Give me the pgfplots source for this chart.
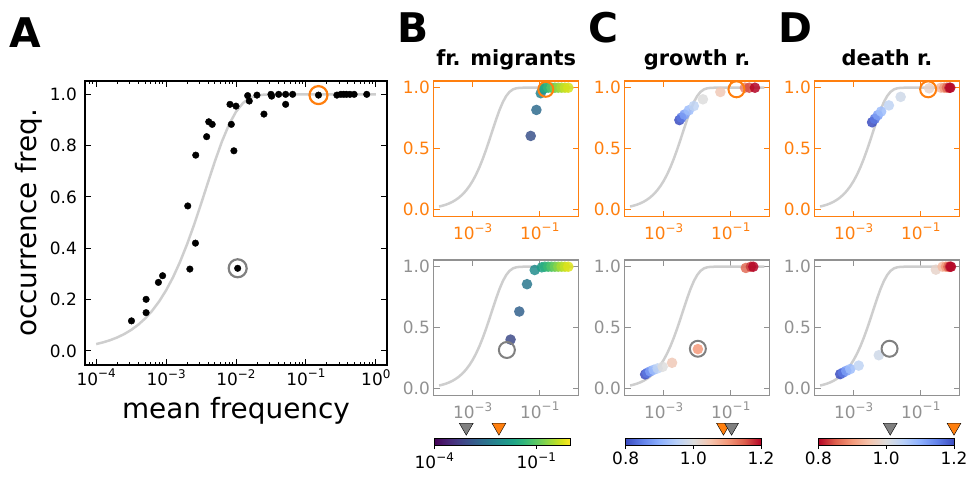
\documentclass[border=0pt]{standalone}
\usepackage{fontspec}
\setmainfont{DejaVu Sans}
\usepackage{pgfplots}
\usepackage{pgfplotstable}
\pgfplotsset{compat=1.18}

\definecolor{tab orange}{RGB}{255,127,14}
\definecolor{frame gray}{RGB}{145,145,145}
\definecolor{ring gray}{RGB}{128,128,128}
\definecolor{curve gray}{RGB}{206,206,206}

\pgfplotsset{
  colormap={coolwarm}{rgb255=(59,76,192) rgb255=(98,130,234) rgb255=(141,176,254) rgb255=(184,208,249) rgb255=(221,221,221) rgb255=(245,196,173) rgb255=(244,154,123) rgb255=(222,96,77) rgb255=(180,4,38)},
  colormap={coolwarm r}{rgb255=(180,4,38) rgb255=(222,96,77) rgb255=(244,154,123) rgb255=(245,196,173) rgb255=(221,221,221) rgb255=(184,208,249) rgb255=(141,176,254) rgb255=(98,130,234) rgb255=(59,76,192)},
}

\newcommand\tk{\fontsize{17}{20}\selectfont}
\newcommand\ex[1]{10\raisebox{0.42em}{\fontsize{12}{12}\selectfont#1}}

% fitted curve (x = log10 of mean frequency)
\pgfplotstableread{
x y
-4.0 0.0266
-3.9 0.0333
-3.8 0.0418
-3.7 0.0523
-3.6 0.0654
-3.5 0.0816
-3.4 0.1016
-3.3 0.1262
-3.2 0.1562
-3.1 0.1925
-3.0 0.2360
-2.9 0.2874
-2.8 0.3473
-2.7 0.4155
-2.6 0.4914
-2.5 0.5731
-2.4 0.6575
-2.3 0.7405
-2.2 0.8170
-2.1 0.8821
-2.0 0.9322
-1.9 0.9662
-1.8 0.9860
-1.7 0.9953
-1.6 0.9988
-1.5 0.9998
-1.4 1.0
0.0 1.0
}\fitcurve

% panel A species
\pgfplotstableread{
x y
-3.495 0.117
-3.286 0.201
-3.286 0.149
-3.11 0.267
-3.05 0.293
-2.69 0.565
-2.66 0.319
-2.58 0.42
-2.576 0.763
-2.42 0.835
-2.39 0.893
-2.34 0.883
-2.086 0.961
-2.067 0.883
-2.03 0.780
-2.0 0.954
-1.976 0.322
-1.833 0.995
-1.81 0.974
-1.70 0.997
-1.60 0.923
-1.50 1.0
-1.49 0.993
-1.39 1.0
-1.29 1.0
-1.29 0.961
-1.19 1.0
-0.82 0.997
-0.557 0.997
-0.50 1.0
-0.46 1.0
-0.42 1.0
-0.37 1.0
-0.31 1.0
-0.13 1.0
}\species

\pgfplotstableread{
x y c
-1.27 0.605 -3.0
-1.10 0.818 -2.6
-0.97 0.955 -2.2
-0.90 0.99 -1.9
-0.85 1.0 -1.6
-0.75 1.0 -1.35
-0.65 1.0 -1.1
-0.55 1.0 -0.85
-0.45 1.0 -0.65
-0.35 1.0 -0.5
-0.25 1.0 -0.35
-0.15 1.0 -0.25
}\Btop
\pgfplotstableread{
x y c
-1.87 0.403 -3.1
-1.61 0.633 -2.75
-1.38 0.857 -2.4
-1.15 0.973 -2.05
-0.94 0.995 -1.75
-0.85 1.0 -1.5
-0.75 1.0 -1.3
-0.65 1.0 -1.1
-0.55 1.0 -0.9
-0.45 1.0 -0.7
-0.35 1.0 -0.5
-0.25 1.0 -0.35
-0.15 1.0 -0.2
}\Bbot
\pgfplotstableread{
x y c
-2.53 0.735 0.80
-2.47 0.755 0.84
-2.38 0.780 0.88
-2.25 0.815 0.92
-2.10 0.850 0.96
-1.83 0.905 1.00
-1.31 0.965 1.04
-0.58 1.0 1.12
-0.45 1.0 1.16
-0.28 1.0 1.20
}\Ctop
\pgfplotstableread{
x y c
-3.55 0.118 0.80
-3.49 0.130 0.84
-3.40 0.143 0.88
-3.30 0.155 0.92
-3.18 0.167 0.96
-3.03 0.180 1.00
-2.75 0.213 1.04
-1.98 0.325 1.10
-0.55 0.99 1.14
-0.40 1.0 1.17
-0.33 1.0 1.20
}\Cbot
\pgfplotstableread{
x y c
-2.45 0.717 1.20
-2.37 0.745 1.16
-2.28 0.775 1.12
-2.18 0.805 1.08
-1.95 0.855 1.04
-1.60 0.925 1.02
-0.75 0.995 0.98
-0.40 1.0 0.94
-0.30 1.0 0.90
-0.22 1.0 0.86
-0.15 1.0 0.82
-0.12 1.0 0.80
}\Dtop
\pgfplotstableread{
x y c
-3.40 0.120 1.20
-3.32 0.132 1.16
-3.22 0.147 1.12
-3.10 0.162 1.08
-2.85 0.190 1.04
-2.25 0.275 1.02
-0.55 0.976 0.98
-0.35 1.0 0.94
-0.25 1.0 0.90
-0.18 1.0 0.86
-0.13 1.0 0.82
-0.10 1.0 0.80
}\Dbot

\pgfplotsset{
  small panel/.style={scale only axis, width=145bp, height=135.5bp,
    xmin=-4.16, xmax=0.16, ymin=-0.055, ymax=1.055,
    xtick={-3,-1}, xticklabels={\ex{−3},\ex{−1}},
    ytick={0,0.5,1}, yticklabels={0.0,0.5,1.0},
    tick align=inside, major tick length=6bp, clip=false,
    xticklabel style={font=\tk, anchor=north, inner sep=0pt, yshift=-6.5bp},
    yticklabel style={font=\tk, anchor=east, inner sep=0pt, xshift=-3.7bp}},
  orange panel/.style={small panel, axis line style={draw=tab orange, line width=1.5bp},
    tick style={draw=tab orange, line width=1.2bp}, tick label style={text=tab orange}},
  gray panel/.style={small panel, axis line style={draw=frame gray, line width=1.5bp},
    tick style={draw=frame gray, line width=1.2bp}, tick label style={text=frame gray}},
  dots/.style={scatter, only marks, mark=*, mark size=5.3bp, scatter src=explicit,
    scatter/use mapped color={draw=mapped color, fill=mapped color, draw opacity=0, fill opacity=0.85}},
  fit line/.style={curve gray, line width=2.5bp},
  cbar/.style={anchor=south west, scale only axis, height=7.4bp,
    ymin=0, ymax=1, hide axis, clip=false, colorbar horizontal},
  cbar ticks/.style={at={(0,0)}, anchor=south west, scale only axis, height=7.4bp,
    ytick=\empty, xtick pos=left, tick align=outside, major tick length=3.5bp,
    axis line style={line width=1bp}, tick style={black, line width=1bp},
    xticklabel style={font=\tk, text=black, inner sep=0pt, anchor=north, yshift=-3bp}},
  tri/.style={only marks, mark=triangle*, mark size=8bp, mark options={rotate=180, draw=none, fill=#1}},
}

\begin{document}
\begin{tikzpicture}
% ---- A ----
\begin{axis}[at={(85bp,-81bp)}, anchor=north west, scale only axis, width=302bp, height=284bp,
  xmin=-4.16, xmax=0.16, ymin=-0.055, ymax=1.052,
  xtick={-4,-3,-2,-1,0}, xticklabels={\ex{−4},\ex{−3},\ex{−2},\ex{−1},\ex{0}},
  minor xtick={-4.097,-4.046,
    -3.699,-3.523,-3.398,-3.301,-3.222,-3.155,-3.097,-3.046,
    -2.699,-2.523,-2.398,-2.301,-2.222,-2.155,-2.097,-2.046,
    -1.699,-1.523,-1.398,-1.301,-1.222,-1.155,-1.097,-1.046,
    -0.699,-0.523,-0.398,-0.301,-0.222,-0.155,-0.097,-0.046},
  ytick={0,0.2,0.4,0.6,0.8,1}, yticklabels={0.0,0.2,0.4,0.6,0.8,1.0},
  tick align=inside, major tick length=6bp, minor tick length=3bp,
  axis line style={line width=1.2bp}, tick style={black, line width=1bp},
  xticklabel style={font=\tk, anchor=north, inner sep=0pt, yshift=-4bp},
  yticklabel style={font=\tk, anchor=east, inner sep=0pt, xshift=-8bp},
  clip=false]
\addplot[fit line] table {\fitcurve};
\addplot[only marks, mark=*, mark size=3.3bp, black] table {\species};
\addplot[only marks, mark=o, mark size=9bp, mark options={draw=tab orange, line width=2.2bp}] coordinates {(-0.82,0.997)};
\addplot[only marks, mark=o, mark size=9bp, mark options={draw=ring gray, line width=2.2bp}] coordinates {(-1.976,0.322)};
\end{axis}

% ---- B ----
\begin{axis}[orange panel, at={(433.7bp,-81bp)}, anchor=north west, colormap name=viridis, point meta min=-4, point meta max=0]
\addplot[fit line] table {\fitcurve};
\addplot[dots] table[meta=c] {\Btop};
\addplot[only marks, mark=o, mark size=7.5bp, mark options={draw=tab orange, line width=2bp}] coordinates {(-0.82,0.987)};
\end{axis}
\begin{axis}[gray panel, at={(433.7bp,-260bp)}, anchor=north west, colormap name=viridis, point meta min=-4, point meta max=0]
\addplot[fit line] table {\fitcurve};
\addplot[dots] table[meta=c] {\Bbot};
\addplot[only marks, mark=o, mark size=8bp, mark options={draw=ring gray, line width=2bp}] coordinates {(-1.98,0.318)};
\end{axis}
\begin{axis}[cbar, at={(434.3bp,-445.7bp)}, width=136bp, xmin=-4, xmax=0,
  colormap name=viridis, point meta min=-4, point meta max=0,
  colorbar style={cbar ticks, width=136bp, xtick={-4,-1}, xticklabels={\ex{−4},\ex{−1}}}]
\addplot[tri=ring gray] coordinates {(-3.06,2.5)};
\addplot[tri=tab orange] coordinates {(-2.1,2.5)};
\end{axis}

% ---- C ----
\begin{axis}[orange panel, at={(624.7bp,-81bp)}, anchor=north west, colormap name=coolwarm, point meta min=0.8, point meta max=1.2]
\addplot[fit line] table {\fitcurve};
\addplot[dots] table[meta=c] {\Ctop};
\addplot[only marks, mark=o, mark size=8bp, mark options={draw=tab orange, line width=2bp}] coordinates {(-0.83,0.987)};
\end{axis}
\begin{axis}[gray panel, at={(624.7bp,-260bp)}, anchor=north west, colormap name=coolwarm, point meta min=0.8, point meta max=1.2]
\addplot[fit line] table {\fitcurve};
\addplot[dots] table[meta=c] {\Cbot};
\addplot[only marks, mark=o, mark size=8bp, mark options={draw=ring gray, line width=2bp}] coordinates {(-1.98,0.328)};
\end{axis}
\begin{axis}[cbar, at={(625.7bp,-445.7bp)}, width=135.3bp, xmin=0.8, xmax=1.2,
  colormap name=coolwarm, point meta min=0.8, point meta max=1.2,
  colorbar style={cbar ticks, width=135.3bp, xtick={0.8,1.0,1.2}, xticklabels={0.8,1.0,1.2}}]
\addplot[tri=tab orange] coordinates {(1.089,2.5)};
\addplot[tri=ring gray] coordinates {(1.113,2.5)};
\end{axis}

% ---- D ----
\begin{axis}[orange panel, at={(814.7bp,-81bp)}, anchor=north west, colormap name=coolwarm r, point meta min=0.8, point meta max=1.2]
\addplot[fit line] table {\fitcurve};
\addplot[dots] table[meta=c] {\Dtop};
\addplot[only marks, mark=o, mark size=8bp, mark options={draw=tab orange, line width=2bp}] coordinates {(-0.78,0.987)};
\end{axis}
\begin{axis}[gray panel, at={(814.7bp,-260bp)}, anchor=north west, colormap name=coolwarm r, point meta min=0.8, point meta max=1.2]
\addplot[fit line] table {\fitcurve};
\addplot[dots] table[meta=c] {\Dbot};
\addplot[only marks, mark=o, mark size=8bp, mark options={draw=ring gray, line width=2bp}] coordinates {(-1.93,0.328)};
\end{axis}
\begin{axis}[cbar, at={(818.3bp,-445.7bp)}, width=135.7bp, xmin=0.8, xmax=1.2,
  colormap name=coolwarm r, point meta min=0.8, point meta max=1.2,
  colorbar style={cbar ticks, width=135.7bp, xtick={0.8,1.0,1.2}, xticklabels={0.8,1.0,1.2}}]
\addplot[tri=ring gray] coordinates {(1.012,2.5)};
\addplot[tri=tab orange] coordinates {(1.2,2.5)};
\end{axis}

% ---- labels ----
\node[anchor=base, inner sep=0pt, font=\fontsize{28}{32}\selectfont] at (236bp,-418bp) {mean frequency};
\node[anchor=base, inner sep=0pt, rotate=90, font=\fontsize{28}{32}\selectfont] at (36bp,-223bp) {occurrence freq.};
\node[anchor=base, inner sep=0pt, font=\fontsize{21}{25}\selectfont\bfseries] at (506.2bp,-65bp) {fr. migrants};
\node[anchor=base, inner sep=0pt, font=\fontsize{21}{25}\selectfont\bfseries] at (697bp,-65bp) {growth r.};
\node[anchor=base, inner sep=0pt, font=\fontsize{21}{25}\selectfont\bfseries] at (887bp,-65bp) {death r.};
\node[anchor=base west, inner sep=0pt, font=\fontsize{41}{45}\selectfont\bfseries] at (9bp,-47bp) {A};
\node[anchor=base west, inner sep=0pt, font=\fontsize{41}{45}\selectfont\bfseries] at (397bp,-42bp) {B};
\node[anchor=base west, inner sep=0pt, font=\fontsize{41}{45}\selectfont\bfseries] at (588bp,-42bp) {C};
\node[anchor=base west, inner sep=0pt, font=\fontsize{41}{45}\selectfont\bfseries] at (778bp,-42bp) {D};

\pgfresetboundingbox
\path[use as bounding box] (0,0) rectangle (971bp,-478bp);
\end{tikzpicture}
\end{document}
